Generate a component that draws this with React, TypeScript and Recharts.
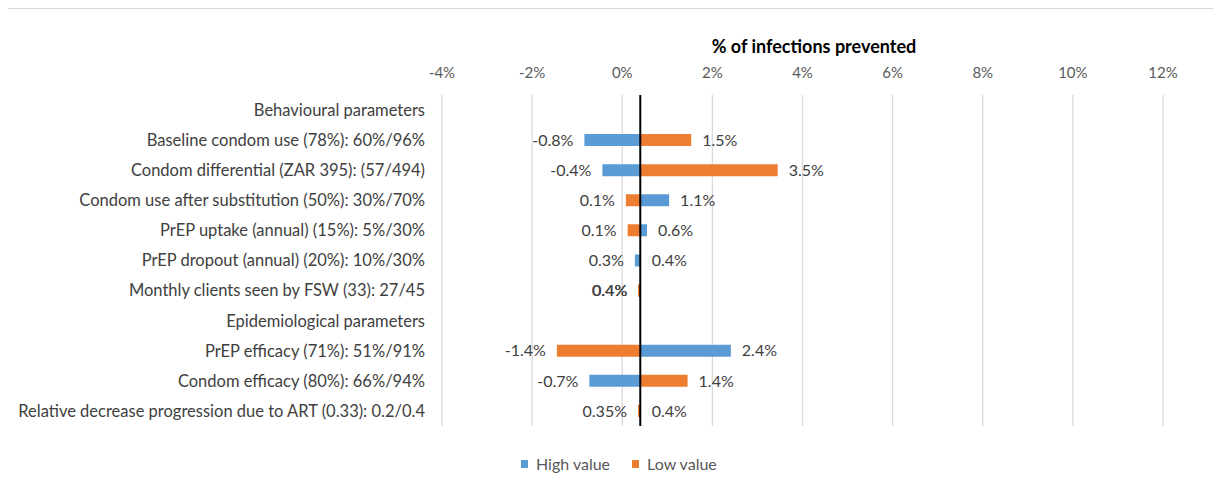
import React from 'react';
import { BarChart, Bar, XAxis, YAxis, CartesianGrid, ReferenceLine, LabelList, Legend } from 'recharts';

const categories = [
  'Behavioural parameters',
  'Baseline condom use (78%): 60%/96%',
  'Condom differential (ZAR 395): (57/494)',
  'Condom use after substitution (50%): 30%/70%',
  'PrEP uptake (annual) (15%): 5%/30%',
  'PrEP dropout (annual) (20%): 10%/30%',
  'Monthly clients seen by FSW (33): 27/45',
  'Epidemiological parameters',
  'PrEP efficacy (71%): 51%/91%',
  'Condom efficacy (80%): 66%/94%',
  'Relative decrease progression due to ART (0.33): 0.2/0.4',
];

const BASELINE = 0.4;

const highValues: (number | null)[] = [null, -0.84, -0.44, 1.04, 0.55, 0.28, 0.36, null, 2.41, -0.73, 0.41];
const lowValues: (number | null)[] = [null, 1.53, 3.45, 0.08, 0.12, 0.41, 0.35, null, -1.45, 1.45, 0.35];

const highLabels = ['', '-0.8%', '-0.4%', '1.1%', '0.6%', '0.3%', '0.4%', '', '2.4%', '-0.7%', '0.4%'];
const lowLabels = ['', '1.5%', '3.5%', '0.1%', '0.1%', '0.4%', '0.4%', '', '-1.4%', '1.4%', '0.35%'];

const xTicks = [-4, -2, 0, 2, 4, 6, 8, 10, 12];

const HIGH_COLOR = '#5B9BD5';
const LOW_COLOR = '#ED7D31';
const FONT = 'Lato, "Open Sans", sans-serif';

const toRange = (v: number | null) =>
  v == null ? null : [Math.min(BASELINE, v), Math.max(BASELINE, v)];

const data = categories.map((name, i) => ({
  name,
  high: toRange(highValues[i]),
  low: toRange(lowValues[i]),
}));

const makeLabel = (values: (number | null)[], labels: string[]) => (props: any) => {
  const { x, y, width, height, value } = props;
  const index = categories.indexOf(value);
  if (index < 0) return null;
  const v = values[index];
  const t = labels[index];
  if (v == null || !t) return null;
  const left = Math.min(x, x + width);
  const right = Math.max(x, x + width);
  const onLeft = v < BASELINE;
  return (
    <text
      x={onLeft ? left - 11 : right + 11}
      y={y + height / 2}
      dy="0.36em"
      textAnchor={onLeft ? 'end' : 'start'}
      fontSize={16}
      fontFamily={FONT}
      fill="#404040"
    >
      {t}
    </text>
  );
};

const legendItems = [
  { label: 'High value', color: HIGH_COLOR },
  { label: 'Low value', color: LOW_COLOR },
];

const LegendContent = () => (
  <div style={{ display: 'flex', alignItems: 'center', fontFamily: FONT, fontSize: 16, color: '#595959' }}>
    {legendItems.map((it) => (
      <div key={it.label} style={{ display: 'flex', alignItems: 'center', marginRight: 22 }}>
        <span style={{ display: 'inline-block', width: 7, height: 8, background: it.color, marginRight: 8 }} />
        <span>{it.label}</span>
      </div>
    ))}
  </div>
);

export default function App() {
  return (
    <div style={{ position: 'relative', width: 1205, height: 473 }}>
      <div
        style={{
          position: 'absolute',
          left: -2,
          top: 0,
          width: 1211,
          height: 480,
          borderTop: '1px solid #d9d9d9',
          borderLeft: '1px solid #d9d9d9',
          borderRight: '1px solid #d9d9d9',
          boxSizing: 'border-box',
        }}
      />
      <div
        style={{
          position: 'absolute',
          left: 606,
          width: 400,
          top: 27,
          textAlign: 'center',
          fontFamily: FONT,
          fontWeight: 700,
          fontSize: 18,
          lineHeight: '22px',
          color: '#000',
        }}
      >
        % of infections prevented
      </div>
      <BarChart
        width={1205}
        height={473}
        data={data}
        layout="vertical"
        barSize={12}
        barGap={-12}
        margin={{ top: 0, right: 50, bottom: 55, left: 0 }}
        style={{ position: 'absolute', left: 0, top: 0 }}
      >
        <CartesianGrid horizontal={false} stroke="#d9d9d9" strokeWidth={1.3} />
        <XAxis
          type="number"
          orientation="top"
          domain={[-4, 12]}
          ticks={xTicks}
          tickFormatter={(v: number) => `${v}%`}
          axisLine={false}
          tickLine={false}
          tickSize={0}
          tickMargin={17}
          height={87}
          tick={{ fill: '#595959', fontSize: 15, fontFamily: FONT }}
          allowDataOverflow
        />
        <YAxis
          type="category"
          dataKey="name"
          width={434}
          interval={0}
          axisLine={false}
          tickLine={false}
          tickSize={0}
          tickMargin={17}
          tick={{ fill: '#404040', fontSize: 16.5, fontFamily: FONT }}
        />
        <Bar dataKey="high" name="High value" fill={HIGH_COLOR} isAnimationActive={false}>
          <LabelList dataKey="name" content={makeLabel(highValues, highLabels)} />
        </Bar>
        <Bar dataKey="low" name="Low value" fill={LOW_COLOR} isAnimationActive={false}>
          <LabelList dataKey="name" content={makeLabel(lowValues, lowLabels)} />
        </Bar>
        <ReferenceLine x={BASELINE} stroke="#000" strokeWidth={2} />
        <Legend
          layout="horizontal"
          verticalAlign="middle"
          align="center"
          content={<LegendContent />}
          wrapperStyle={{ top: 446, left: 513, width: 300, height: 18 }}
        />
      </BarChart>
    </div>
  );
}
